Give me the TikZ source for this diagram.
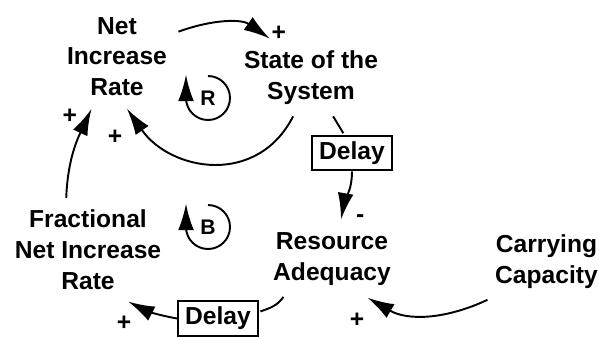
\documentclass[tikz,border=0pt]{standalone}
\usepackage{fontspec}
\setmainfont{Liberation Sans}
\usetikzlibrary{arrows.meta,positioning}

\begin{document}
\begin{tikzpicture}[shorten >=1pt,node distance=2cm,on grid,line width=1.1pt,
   >={Latex[length=15pt,width=9pt]},
   font=\bfseries\fontsize{14}{17.5}\selectfont,
   var/.style={align=center,inner sep=6pt},
   delaybox/.style={draw,inner xsep=4pt,minimum height=0.66cm},
   polarity/.style={inner sep=0pt},
   loopsign/.style={font=\bfseries\fontsize{12}{12}\selectfont,inner sep=0pt}]
   \useasboundingbox (0,0) rectangle (11.98,-6.72);
   \node[var] (net) at (2.34,-1.13) {Net\\Increase\\Rate};
   \node[var] (state) [below right=0.43cm and 3.88cm of net] {State of the\\System};
   \node[delaybox] (d_1) [below right=1.50cm and 0.82cm of state] {Delay};
   \node[var] (res) [below right=3.62cm and 0.42cm of state] {Resource\\Adequacy};
   \node[var] (cap) [below right=0.05cm and 4.29cm of res] {Carrying\\Capacity};
   \node[delaybox] (d_2) [below left=1.19cm and 2.28cm of res] {Delay};
   \node[var] (frac) [below left=3.86cm and 0.58cm of net] {Fractional\\Net Increase\\Rate};
   \node[loopsign] (l_r) [below right=0.83cm and 1.82cm of net] {R};
   \node[loopsign] (l_b) [above right=0.45cm and 2.40cm of frac] {B};
    \path[->]
    (net.22) edge[out=20,in=145] node[polarity,pos=1,xshift=0.15cm,yshift=0.12cm] {+} (state.136)
    (state.245) edge[out=243,in=-55,looseness=1.2] node[polarity,pos=1,xshift=-0.22cm,yshift=-0.59cm] {+} (net.-80)
    (d_1.south) edge[out=-90,in=80] node[polarity,pos=1,xshift=0.39cm,yshift=0.05cm] {-} (res.77)
    (cap.213) edge[out=205,in=-30] node[polarity,pos=1,xshift=-0.18cm,yshift=-0.46cm] {+} (res.-48)
    (d_2.west) edge[out=170,in=-27] node[polarity,pos=1,xshift=-0.05cm,yshift=-0.45cm] {+} (frac.-53)
    (frac.113) edge[out=88,in=245] node[polarity,pos=1,xshift=-0.45cm,yshift=-0.18cm] {+} (net.244);
    \path
    (state.-60) edge (d_1.113)
    (res.218) edge[out=235,in=20] (d_2.9);
   \draw[->] ([yshift=0.44cm]l_r.center) arc[start angle=90,end angle=-180,radius=0.44cm] -- ++(0,0.5cm);
   \draw[->] ([yshift=0.44cm]l_b.center) arc[start angle=90,end angle=-180,radius=0.44cm] -- ++(0,0.5cm);
\end{tikzpicture}
\end{document}
